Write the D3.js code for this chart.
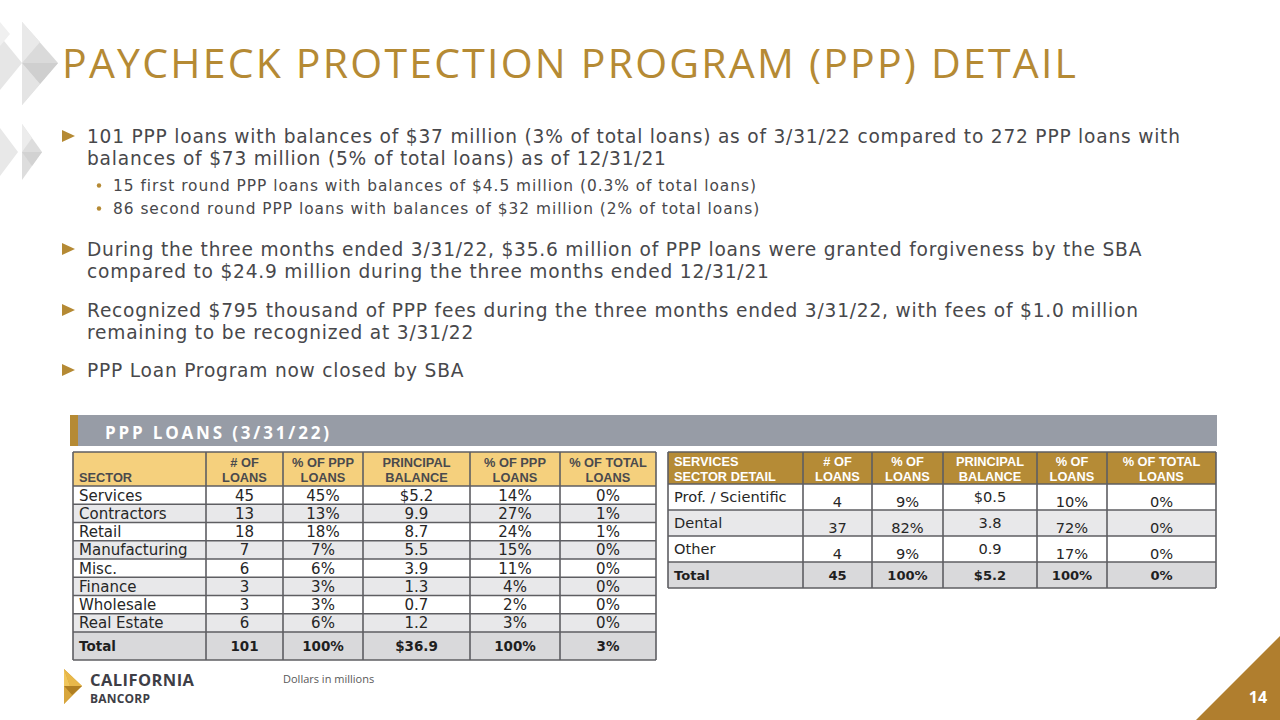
<!DOCTYPE html>
<html><head><meta charset="utf-8">
<script src="https://cdn.jsdelivr.net/npm/d3@7"></script>
<style>
html,body{margin:0;padding:0;background:#fff;}
svg{display:block;}
</style></head>
<body>
<script>
// ---------- DATA ----------
const titleText = "PAYCHECK PROTECTION PROGRAM (PPP) DETAIL";
const bullets = [
  {level:1, lines:["101 PPP loans with balances of $37 million (3% of total loans) as of 3/31/22 compared to 272 PPP loans with","balances of $73 million (5% of total loans) as of 12/31/21"]},
  {level:2, lines:["15 first round PPP loans with balances of $4.5 million (0.3% of total loans)"]},
  {level:2, lines:["86 second round PPP loans with balances of $32 million (2% of total loans)"]},
  {level:1, lines:["During the three months ended 3/31/22, $35.6 million of PPP loans were granted forgiveness by the SBA","compared to $24.9 million during the three months ended 12/31/21"]},
  {level:1, lines:["Recognized $795 thousand of PPP fees during the three months ended 3/31/22, with fees of $1.0 million","remaining to be recognized at 3/31/22"]},
  {level:1, lines:["PPP Loan Program now closed by SBA"]}
];
const bannerText = "PPP LOANS (3/31/22)";

const sectorHeaders = [["","SECTOR"],["# OF","LOANS"],["% OF PPP","LOANS"],["PRINCIPAL","BALANCE"],["% OF PPP","LOANS"],["% OF TOTAL","LOANS"]];
const sectors      = ["Services","Contractors","Retail","Manufacturing","Misc.","Finance","Wholesale","Real Estate"];
const sectorLoans  = [45,13,18,7,6,3,3,6];
const sectorPctPPP = ["45%","13%","18%","7%","6%","3%","3%","6%"];
const sectorBal    = ["$5.2","9.9","8.7","5.5","3.9","1.3","0.7","1.2"];
const sectorPctBal = ["14%","27%","24%","15%","11%","4%","2%","3%"];
const sectorPctTot = ["0%","1%","1%","0%","0%","0%","0%","0%"];
const sectorTotal  = ["Total","101","100%","$36.9","100%","3%"];

const svcHeaders = [["SERVICES","SECTOR DETAIL"],["# OF","LOANS"],["% OF","LOANS"],["PRINCIPAL","BALANCE"],["% OF","LOANS"],["% OF TOTAL","LOANS"]];
const svcNames   = ["Prof. / Scientific","Dental","Other"];
const svcLoans   = [4,37,4];
const svcPct     = ["9%","82%","9%"];
const svcBal     = ["$0.5","3.8","0.9"];
const svcPctBal  = ["10%","72%","17%"];
const svcPctTot  = ["0%","0%","0%"];
const svcTotal   = ["Total","45","100%","$5.2","100%","0%"];

const footNote = "Dollars in millions";
const pageNum = "14";

// ---------- DRAW ----------
const W=1280,H=720;
const GOLD="#B58A34", TXT="#48484B", GRID="#5E5E62";
const BODY_FONT="DejaVu Sans, sans-serif";
const HEAD_FONT="Liberation Sans, Arial, sans-serif";
const svg=d3.select("body").append("svg").attr("width",W).attr("height",H)
  .attr("font-family","Open Sans, Noto Sans, sans-serif");

function measure(str,size,family,weight){
  const t=svg.append("text").text(str).attr("font-size",size).attr("font-family",family).attr("font-weight",weight||400);
  const w=t.node().getComputedTextLength(); t.remove();
  return w;
}

// top-left decoration
const deco=svg.append("g");
const decoPolys=[
  {p:[[22,22],[58,63],[22,105]],f:"#DADADA"},
  {p:[[22,22],[40,42],[22,63]],f:"#E9E9E9"},
  {p:[[22,63],[58,63],[40,84]],f:"#CFCFCF"},
  {p:[[22,63],[40,84],[22,105]],f:"#E4E4E4"},
  {p:[[0,36],[22,63],[0,90]],f:"#E6E6E6"},
  {p:[[0,22],[10,34],[0,46]],f:"#F0F0F0"},
  {p:[[22,124],[42,152],[22,180]],f:"#DDDDDD"},
  {p:[[22,124],[32,138],[22,152]],f:"#ECECEC"},
  {p:[[22,152],[42,152],[32,166]],f:"#D2D2D2"},
  {p:[[0,128],[18,152],[0,176]],f:"#E8E8E8"}
];
deco.selectAll("polygon").data(decoPolys).join("polygon")
  .attr("points",d=>d.p.map(q=>q.join(",")).join(" ")).attr("fill",d=>d.f);

// title
svg.append("text").attr("x",62).attr("y",78).text(titleText)
  .attr("fill",GOLD).attr("font-size",41).attr("textLength",1014).attr("lengthAdjust","spacing");

// bullets
const FS1=18.6, FS2=15.4;
const l1=bullets[0].lines[0], l2=bullets[1].lines[0];
const ls1=(1093-measure(l1,FS1,BODY_FONT))/(l1.length-1);
const ls2=(643-measure(l2,FS2,BODY_FONT))/(l2.length-1);
const bulletYs=[[143,165],[191],[214],[256,278],[317,339],[377]];
bullets.forEach((b,i)=>{
  const ys=bulletYs[i];
  const lvl1=b.level===1;
  const x0=lvl1?87:113;
  if(lvl1){
    const y=ys[0]-7;
    svg.append("path").attr("d",`M62,${y-6}L75,${y}L62,${y+6}Z`).attr("fill",GOLD);
  } else {
    svg.append("circle").attr("cx",99).attr("cy",ys[0]-5.5).attr("r",2.2).attr("fill",GOLD);
  }
  b.lines.forEach((s,j)=>svg.append("text").attr("x",x0).attr("y",ys[j]).text(s)
    .attr("font-family",BODY_FONT).attr("fill",TXT).attr("font-size",lvl1?FS1:FS2)
    .attr("letter-spacing",lvl1?ls1:ls2));
});

// banner
svg.append("rect").attr("x",70).attr("y",415).attr("width",1147).attr("height",31).attr("fill","#979CA6");
svg.append("rect").attr("x",70).attr("y",415).attr("width",8).attr("height",31).attr("fill",GOLD);
svg.append("text").attr("x",105).attr("y",439).text(bannerText).attr("fill","#fff")
  .attr("font-size",17).attr("font-weight",700).attr("textLength",224).attr("lengthAdjust","spacing");

// generic table drawer
function drawTable(opt){
  const g=svg.append("g");
  const cols=opt.cols;
  const x=d3.scaleOrdinal().domain(d3.range(6)).range(cols.slice(0,6));
  const cw=i=>cols[i+1]-cols[i];
  const rowY=d3.scaleBand().domain(d3.range(opt.rows.length)).range([opt.bodyTop,opt.bodyBottom]);
  const cx=i=>i===0?cols[0]+6:x(i)+cw(i)/2;
  const anc=i=>i===0?"start":"middle";
  // header
  g.append("rect").attr("x",cols[0]).attr("y",opt.headTop).attr("width",cols[6]-cols[0])
    .attr("height",opt.bodyTop-opt.headTop).attr("fill",opt.headFill);
  opt.headers.forEach((h,i)=>{
    h.forEach((s,j)=>{
      if(!s) return;
      g.append("text").attr("x",cx(i)).attr("y",opt.headTop+opt.headBase[j]).text(s)
        .attr("text-anchor",anc(i)).attr("font-family",HEAD_FONT)
        .attr("fill",opt.headColor).attr("font-size",12.8).attr("font-weight",700);
    });
  });
  // body rows
  opt.rows.forEach((r,k)=>{
    const y0=rowY(k), h=rowY.bandwidth();
    g.append("rect").attr("x",cols[0]).attr("y",y0).attr("width",cols[6]-cols[0]).attr("height",h)
      .attr("fill",k%2===0?"#FFFFFF":"#E8E8EA");
    r.forEach((v,i)=>{
      const base=y0+(opt.base?opt.base(i,h):h/2+5.5);
      g.append("text").attr("x",cx(i)).attr("y",base)
        .attr("text-anchor",anc(i)).text(v).attr("font-family",BODY_FONT)
        .attr("fill","#262626").attr("font-size",opt.fs);
    });
  });
  // total row
  const tTop=opt.bodyBottom, tH=opt.totalBottom-opt.bodyBottom;
  g.append("rect").attr("x",cols[0]).attr("y",tTop).attr("width",cols[6]-cols[0]).attr("height",tH).attr("fill","#D9D9DB");
  opt.total.forEach((v,i)=>{
    g.append("text").attr("x",cx(i)).attr("y",tTop+tH/2+5)
      .attr("text-anchor",anc(i)).text(v).attr("font-family",BODY_FONT)
      .attr("fill","#1F1F1F").attr("font-size",opt.fs-1.5).attr("font-weight",700);
  });
  // grid
  const hl=[opt.headTop,opt.bodyTop,...opt.rows.map((r,k)=>rowY(k)+rowY.bandwidth()),opt.totalBottom];
  g.selectAll("line.h").data(hl).join("line").attr("x1",cols[0]).attr("x2",cols[6])
    .attr("y1",d=>d).attr("y2",d=>d).attr("stroke",GRID).attr("stroke-width",1.6);
  g.selectAll("line.v").data(cols).join("line").attr("x1",d=>d).attr("x2",d=>d)
    .attr("y1",opt.headTop).attr("y2",opt.totalBottom).attr("stroke",GRID).attr("stroke-width",1.6);
}

const leftRows=sectors.map((s,i)=>[s,String(sectorLoans[i]),sectorPctPPP[i],sectorBal[i],sectorPctBal[i],sectorPctTot[i]]);
drawTable({cols:[73,206,283,363,470,560,656],headTop:452,bodyTop:486,bodyBottom:632,totalBottom:660,
  headers:sectorHeaders,headFill:"#F5D07D",headColor:"#4A4A4D",headBase:[15,30],
  rows:leftRows,total:sectorTotal,fs:15});

const rightRows=svcNames.map((s,i)=>[s,String(svcLoans[i]),svcPct[i],svcBal[i],svcPctBal[i],svcPctTot[i]]);
drawTable({cols:[668,803,872,943,1037,1107,1216],headTop:452,bodyTop:484,bodyBottom:562,totalBottom:588,
  headers:svcHeaders,headFill:"#B58B36",headColor:"#FFFFFF",headBase:[14,29],
  rows:rightRows,total:svcTotal,fs:14.6,
  base:(i,h)=>(i===0||i===3)?18:23});

// footnote
svg.append("text").attr("x",283).attr("y",683).text(footNote).attr("fill","#595959").attr("font-size",11);

// logo
const logo=svg.append("g");
[
  {p:[[64,669],[82,686],[64,704]],f:"#C9962E"},
  {p:[[64,669],[82,686],[70,686]],f:"#E8B84A"},
  {p:[[64,669],[70,686],[64,686]],f:"#F0C65C"},
  {p:[[64,686],[82,686],[72,695]],f:"#B07F22"},
  {p:[[64,686],[72,695],[64,704]],f:"#D8A63C"}
].forEach(d=>logo.append("polygon").attr("points",d.p.map(q=>q.join(",")).join(" ")).attr("fill",d.f));
logo.append("text").attr("x",90).attr("y",686).text("CALIFORNIA").attr("fill","#3E3E46")
  .attr("font-size",16.5).attr("font-weight",700).attr("textLength",104).attr("lengthAdjust","spacing");
logo.append("text").attr("x",90).attr("y",703).text("BANCORP").attr("fill","#3E3E46")
  .attr("font-size",12).attr("font-weight",700).attr("textLength",60).attr("lengthAdjust","spacing");

// page corner
svg.append("path").attr("d","M1196,720L1280,636L1280,720Z").attr("fill","#B07E2E");
svg.append("text").attr("x",1258).attr("y",703).attr("text-anchor","middle").text(pageNum)
  .attr("fill","#fff").attr("font-size",16).attr("font-weight",700);
</script>
</body></html>
